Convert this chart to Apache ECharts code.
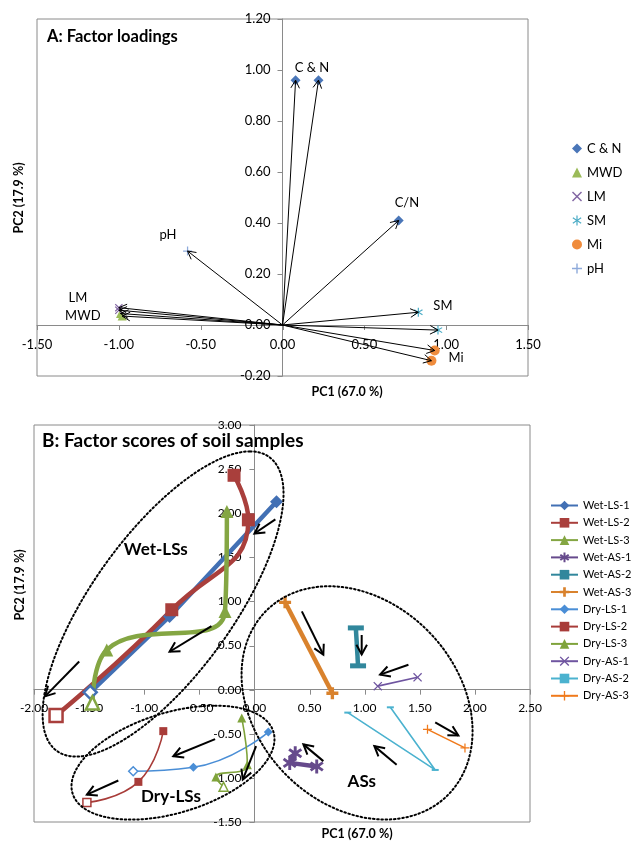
<!DOCTYPE html>
<html>
<head>
<meta charset="utf-8">
<script src="https://cdn.jsdelivr.net/npm/echarts@6/dist/echarts.min.js"></script>
<style>
  html, body { margin: 0; padding: 0; background: #fff; }
  #chart { width: 631px; height: 842px; }
</style>
</head>
<body>
<div id="chart"></div>
<script>
// ---------- Panel A: factor loadings (PC1, PC2) ----------
const loadCN = [[0.08, 0.96], [0.22, 0.96], [0.71, 0.41]];
const loadMWD = [[-0.99, 0.045], [-0.98, 0.035]];
const loadLM = [[-1.00, 0.068], [-1.00, 0.058]];
const loadSM = [[0.83, 0.05], [0.95, -0.02]];
const loadMi = [[0.93, -0.10], [0.91, -0.14]];
const loadPH = [[-0.58, 0.29]];
const loadTags = [
  ['C & N', 0.18, 1.01], ['C/N', 0.76, 0.48], ['pH', -0.70, 0.355],
  ['LM', -1.25, 0.107], ['MWD', -1.22, 0.035], ['SM', 0.98, 0.076], ['Mi', 1.06, -0.13]
];
const xTicksA = [-1.5, -1.0, -0.5, 0, 0.5, 1.0, 1.5];
const yTicksA = [-0.2, 0, 0.2, 0.4, 0.6, 0.8, 1.0, 1.2];

// ---------- Panel B: factor scores of soil samples ----------
const wetLS1 = [[0.20, 2.13], [-0.77, 0.83], [-1.49, -0.03]];
const wetLS2 = [[-0.185, 2.43], [-0.055, 1.925], [-0.75, 0.906], [-1.80, -0.294]];
const wetLS3 = [[-0.25, 2.02], [-0.267, 0.887], [-1.34, 0.45], [-1.47, -0.15]];
const wetAS1 = [[0.37, -0.72], [0.32, -0.83], [0.565, -0.87]];
const wetAS2 = [[0.92, 0.70], [0.94, 0.27]];
const wetAS3 = [[0.278, 0.99], [0.707, -0.04]];
const dryLS1 = [[0.126, -0.48], [-0.554, -0.88], [-1.10, -0.925]];
const dryLS2 = [[-0.827, -0.47], [-1.053, -1.045], [-1.52, -1.28]];
const dryLS3 = [[-0.115, -0.32], [-0.064, -0.85], [-0.35, -0.99], [-0.28, -1.10]];
const dryAS1 = [[1.48, 0.14], [1.119, 0.04]];
const dryAS2 = [[0.847, -0.26], [1.64, -0.91], [1.233, -0.20]];
const dryAS3 = [[1.57, -0.45], [1.91, -0.66]];
const xTicksB = [-2.0, -1.5, -1.0, -0.5, 0, 0.5, 1.0, 1.5, 2.0, 2.5];
const yTicksB = [-1.5, -1.0, -0.5, 0, 0.5, 1.0, 1.5, 2.0, 2.5, 3.0];

// shift arrows [x1, y1, x2, y2]
const arrowsB = [
  [0.19, 1.93, 0.0, 1.77], [-0.39, 0.72, -0.77, 0.43], [-1.59, 0.32, -1.90, -0.076],
  [-0.357, -0.56, -0.736, -0.755], [-1.235, -1.03, -1.52, -1.19], [0.015, -0.64, -0.106, -1.02],
  [0.43, 0.887, 0.625, 0.396], [0.973, 0.62, 0.973, 0.40], [1.397, 0.283, 1.14, 0.17],
  [1.64, -0.37, 1.85, -0.52], [1.29, -0.85, 1.088, -0.64], [0.625, -0.81, 0.444, -0.62]
];
// groups: [centerX, centerY, halfWidth, halfHeight, x offset of top point]
const groupEllipses = [
  [-0.829, 0.971, 1.093, 1.730, 0.789],
  [-0.739, -0.827, 0.921, 0.646, 0.381],
  [0.931, -0.150, 1.048, 1.322, -0.254]
];
const groupTags = [['Wet-LSs', -0.895, 1.585], ['Dry-LSs', -0.757, -1.21], ['ASs', 0.974, -1.04]];

const font = 'Lato, "Liberation Sans", sans-serif';
const gray = '#8a8a8a';

// marker shapes
const plusThick = 'path://M3.6,0H6.4V3.6H10V6.4H6.4V10H3.6V6.4H0V3.6H3.6Z';
const plusThin = 'path://M4.3,0H5.7V4.3H10V5.7H5.7V10H4.3V5.7H0V4.3H4.3Z';
const crossThin = 'path://M1,0L5,4L9,0L10,1L6,5L10,9L9,10L5,6L1,10L0,9L4,5L0,1Z';
const starThick = 'path://M4,0H6V3.3L8.6,1.4L9.8,3L7,5L9.8,7L8.6,8.6L6,6.7V10H4V6.7L1.4,8.6L0.2,7L3,5L0.2,3L1.4,1.4L4,3.3Z';
const starThin = 'path://M4.4,0H5.6V3.9L8.8,1.7L9.5,2.7L6.1,5L9.5,7.3L8.8,8.3L5.6,6.1V10H4.4V6.1L1.2,8.3L0.5,7.3L3.9,5L0.5,2.7L1.2,1.7L4.4,3.9Z';

function arrowRenderer(width, head) {
  return function (params, api) {
    const p1 = api.coord([api.value(0), api.value(1)]);
    const p2 = api.coord([api.value(2), api.value(3)]);
    const ang = Math.atan2(p2[1] - p1[1], p2[0] - p1[0]);
    const h1 = [p2[0] + head * Math.cos(ang + Math.PI - 0.5), p2[1] + head * Math.sin(ang + Math.PI - 0.5)];
    const h2 = [p2[0] + head * Math.cos(ang + Math.PI + 0.5), p2[1] + head * Math.sin(ang + Math.PI + 0.5)];
    const style = { stroke: '#000', lineWidth: width, fill: null };
    return {
      type: 'group',
      children: [
        { type: 'line', shape: { x1: p1[0], y1: p1[1], x2: p2[0], y2: p2[1] }, style },
        { type: 'polyline', shape: { points: [h1, p2, h2] }, style }
      ]
    };
  };
}

function tagRenderer(tags, f) {
  return function (params, api) {
    const p = api.coord([api.value(0), api.value(1)]);
    return {
      type: 'text', x: p[0], y: p[1],
      style: { text: tags[params.dataIndex][0], font: f, fill: '#000', align: 'center', verticalAlign: 'middle' }
    };
  };
}

// tick marks + labels drawn on the axis lines through the origin
function xTickRenderer(fs, gap) {
  return function (params, api) {
    const v = api.value(0);
    const p = api.coord([v, 0]);
    const x = Math.round(p[0]) + 0.5;
    return {
      type: 'group',
      children: [
        { type: 'line', shape: { x1: x, y1: p[1], x2: x, y2: p[1] + 5 }, style: { stroke: gray, lineWidth: 1 } },
        { type: 'text', x: p[0], y: p[1] + gap,
          style: { text: v.toFixed(2), font: fs + 'px ' + font, fill: '#000', align: 'center', verticalAlign: 'middle' } }
      ]
    };
  };
}
function yTickRenderer(fs, gap) {
  return function (params, api) {
    const v = api.value(1);
    const p = api.coord([0, v]);
    const y = Math.round(p[1]) + 0.5;
    return {
      type: 'group',
      children: [
        { type: 'line', shape: { x1: p[0] - 5, y1: y, x2: p[0], y2: y }, style: { stroke: gray, lineWidth: 1 } },
        { type: 'text', x: p[0] - gap, y: p[1],
          style: { text: v.toFixed(2), font: fs + 'px ' + font, fill: '#000', align: 'right', verticalAlign: 'middle' } }
      ]
    };
  };
}

function ellipseRenderer(params, api) {
  const c = api.coord([api.value(0), api.value(1)]);
  const s = api.size([api.value(2), api.value(3)]);
  const tv = api.value(4);
  const t = api.size([Math.abs(tv), 0])[0] * Math.sign(tv);
  const w = Math.sqrt(Math.max(s[0] * s[0] - t * t, 1));
  const pts = [];
  for (let i = 0; i <= 160; i++) {
    const a = i / 160 * Math.PI * 2;
    pts.push([c[0] + t * Math.cos(a) + w * Math.sin(a), c[1] - s[1] * Math.cos(a)]);
  }
  return {
    type: 'polyline', shape: { points: pts },
    style: { stroke: '#000', lineWidth: 2, fill: null, lineDash: [1.6, 2.6], lineCap: 'round' }
  };
}

function valueAxis(grid, min, max, step) {
  return {
    type: 'value', gridIndex: grid, min: min, max: max, interval: step,
    axisLine: { onZero: true, lineStyle: { color: gray, width: 1 } },
    axisTick: { show: false },
    axisLabel: { show: false },
    splitLine: { show: false }
  };
}

const loadSeries = [
  ['C & N', loadCN, '#4a76b8', 'diamond', 10],
  ['MWD', loadMWD, '#9bbb59', 'triangle', 9],
  ['LM', loadLM, '#8064a2', crossThin, 8],
  ['SM', loadSM, '#4bacc6', starThin, 9],
  ['Mi', loadMi, '#f08c3c', 'circle', 10],
  ['pH', loadPH, '#8eaadb', plusThin, 9]
];

// [name, data, color, symbol, size, lineWidth, smooth]
const scoreSeries = [
  ['Wet-LS-1', wetLS1, '#4270b4', 'diamond', 13, 4.5, 0],
  ['Wet-LS-2', wetLS2, '#a93f3c', 'rect', 13, 4.5, 0.5],
  ['Wet-LS-3', wetLS3, '#84a643', 'triangle', 13, 4.5, 0.5],
  ['Wet-AS-1', wetAS1, '#664a8c', starThick, 14, 4.5, 0],
  ['Wet-AS-2', wetAS2, '#31879c', 'rect', [16, 5], 4.5, 0],
  ['Wet-AS-3', wetAS3, '#d9822d', plusThick, 12, 4.5, 0],
  ['Dry-LS-1', dryLS1, '#4a8ed6', 'diamond', 9, 1.6, 0.5],
  ['Dry-LS-2', dryLS2, '#a83c39', 'rect', 8, 1.6, 0.5],
  ['Dry-LS-3', dryLS3, '#7fa33b', 'triangle', 9, 1.6, 0.5],
  ['Dry-AS-1', dryAS1, '#6f55a0', crossThin, 9, 1.6, 0],
  ['Dry-AS-2', dryAS2, '#4bb2cf', 'rect', [7, 2], 1.6, 0.3],
  ['Dry-AS-3', dryAS3, '#f07a1c', plusThin, 9, 1.6, 0]
];

const series = [];
// axis ticks and labels
series.push({ type: 'custom', xAxisIndex: 0, yAxisIndex: 0, silent: true, z: 1,
  encode: { x: 0, y: 1 }, data: xTicksA.map(v => [v, 0]), renderItem: xTickRenderer(13, 20) });
series.push({ type: 'custom', xAxisIndex: 0, yAxisIndex: 0, silent: true, z: 1,
  encode: { x: 0, y: 1 }, data: yTicksA.map(v => [0, v]), renderItem: yTickRenderer(13, 12) });
series.push({ type: 'custom', xAxisIndex: 1, yAxisIndex: 1, silent: true, z: 1,
  encode: { x: 0, y: 1 }, data: xTicksB.map(v => [v, 0]), renderItem: xTickRenderer(12, 18) });
series.push({ type: 'custom', xAxisIndex: 1, yAxisIndex: 1, silent: true, z: 1,
  encode: { x: 0, y: 1 }, data: yTicksB.map(v => [0, v]), renderItem: yTickRenderer(12, 13) });

loadSeries.forEach(s => {
  series.push({
    name: s[0], type: 'scatter', xAxisIndex: 0, yAxisIndex: 0,
    data: s[1], symbol: s[3], symbolSize: s[4], itemStyle: { color: s[2], opacity: 1 }, z: 3
  });
});
series.push({
  type: 'custom', xAxisIndex: 0, yAxisIndex: 0, silent: true, z: 4,
  encode: { x: [0, 2], y: [1, 3] },
  data: [].concat(loadCN, loadMWD, loadLM, loadSM, loadMi, loadPH).map(p => [0, 0, p[0], p[1]]),
  renderItem: arrowRenderer(1, 9)
});
series.push({
  type: 'custom', xAxisIndex: 0, yAxisIndex: 0, silent: true, z: 5,
  encode: { x: 0, y: 1 }, data: loadTags.map(t => [t[1], t[2]]),
  renderItem: tagRenderer(loadTags, '13px ' + font)
});

scoreSeries.forEach(s => {
  const hollow = s[0].indexOf('LS') >= 0;
  const data = s[1].map((p, i) => {
    if (hollow && i === s[1].length - 1) {
      return { value: p, itemStyle: { color: '#fff', borderColor: s[2], borderWidth: s[5] > 2 ? 2.5 : 1.5 } };
    }
    return p;
  });
  series.push({
    name: s[0], type: 'line', xAxisIndex: 1, yAxisIndex: 1,
    data: data, symbol: s[3], symbolSize: s[4], smooth: s[6], showSymbol: true,
    lineStyle: { color: s[2], width: s[5] }, itemStyle: { color: s[2] }, z: 2
  });
});
series.push({
  type: 'custom', xAxisIndex: 1, yAxisIndex: 1, silent: true, z: 5,
  encode: { x: 0, y: 1 }, data: groupEllipses, renderItem: ellipseRenderer
});
series.push({
  type: 'custom', xAxisIndex: 1, yAxisIndex: 1, silent: true, z: 6,
  encode: { x: [0, 2], y: [1, 3] }, data: arrowsB, renderItem: arrowRenderer(2, 11)
});
series.push({
  type: 'custom', xAxisIndex: 1, yAxisIndex: 1, silent: true, z: 6,
  encode: { x: 0, y: 1 }, data: groupTags.map(t => [t[1], t[2]]),
  renderItem: tagRenderer(groupTags, 'bold 17px ' + font)
});

const chart = echarts.init(document.getElementById('chart'));
chart.setOption({
  animation: false,
  backgroundColor: '#fff',
  grid: [
    { left: 37, top: 19, width: 491, height: 357, show: true, borderColor: gray, borderWidth: 1 },
    { left: 34, top: 425, width: 496, height: 397, show: true, borderColor: gray, borderWidth: 1 }
  ],
  xAxis: [valueAxis(0, -1.5, 1.5, 0.5), valueAxis(1, -2, 2.5, 0.5)],
  yAxis: [valueAxis(0, -0.2, 1.2, 0.2), valueAxis(1, -1.5, 3, 0.5)],
  legend: [
    {
      data: loadSeries.map(s => s[0]), orient: 'vertical', left: 567, top: 137,
      itemWidth: 10, itemHeight: 10, itemGap: 11, selectedMode: false,
      textStyle: { fontFamily: font, fontSize: 13, color: '#000' }
    },
    {
      data: scoreSeries.map(s => s[0]), orient: 'vertical', left: 545, top: 495,
      itemWidth: 27, itemHeight: 12, itemGap: 6.3, selectedMode: false,
      textStyle: { fontFamily: font, fontSize: 11, color: '#000' }
    }
  ],
  graphic: [
    { type: 'text', left: 47, top: 28, style: { text: 'A: Factor loadings', font: 'bold 16.5px ' + font, fill: '#000' } },
    { type: 'text', left: 42, top: 431, style: { text: 'B: Factor scores of soil samples', font: 'bold 19px ' + font, fill: '#000' } },
    { type: 'text', x: 347, y: 392, style: { text: 'PC1 (67.0 %)', font: 'bold 12.5px ' + font, fill: '#000', align: 'center', verticalAlign: 'middle' } },
    { type: 'text', x: 357, y: 834, style: { text: 'PC1 (67.0 %)', font: 'bold 12.5px ' + font, fill: '#000', align: 'center', verticalAlign: 'middle' } },
    { type: 'text', x: 19, y: 198, rotation: Math.PI / 2, style: { text: 'PC2 (17.9 %)', font: 'bold 12.5px ' + font, fill: '#000', align: 'center', verticalAlign: 'middle' } },
    { type: 'text', x: 20, y: 585, rotation: Math.PI / 2, style: { text: 'PC2 (17.9 %)', font: 'bold 12.5px ' + font, fill: '#000', align: 'center', verticalAlign: 'middle' } }
  ],
  series: series
});
</script>
</body>
</html>
